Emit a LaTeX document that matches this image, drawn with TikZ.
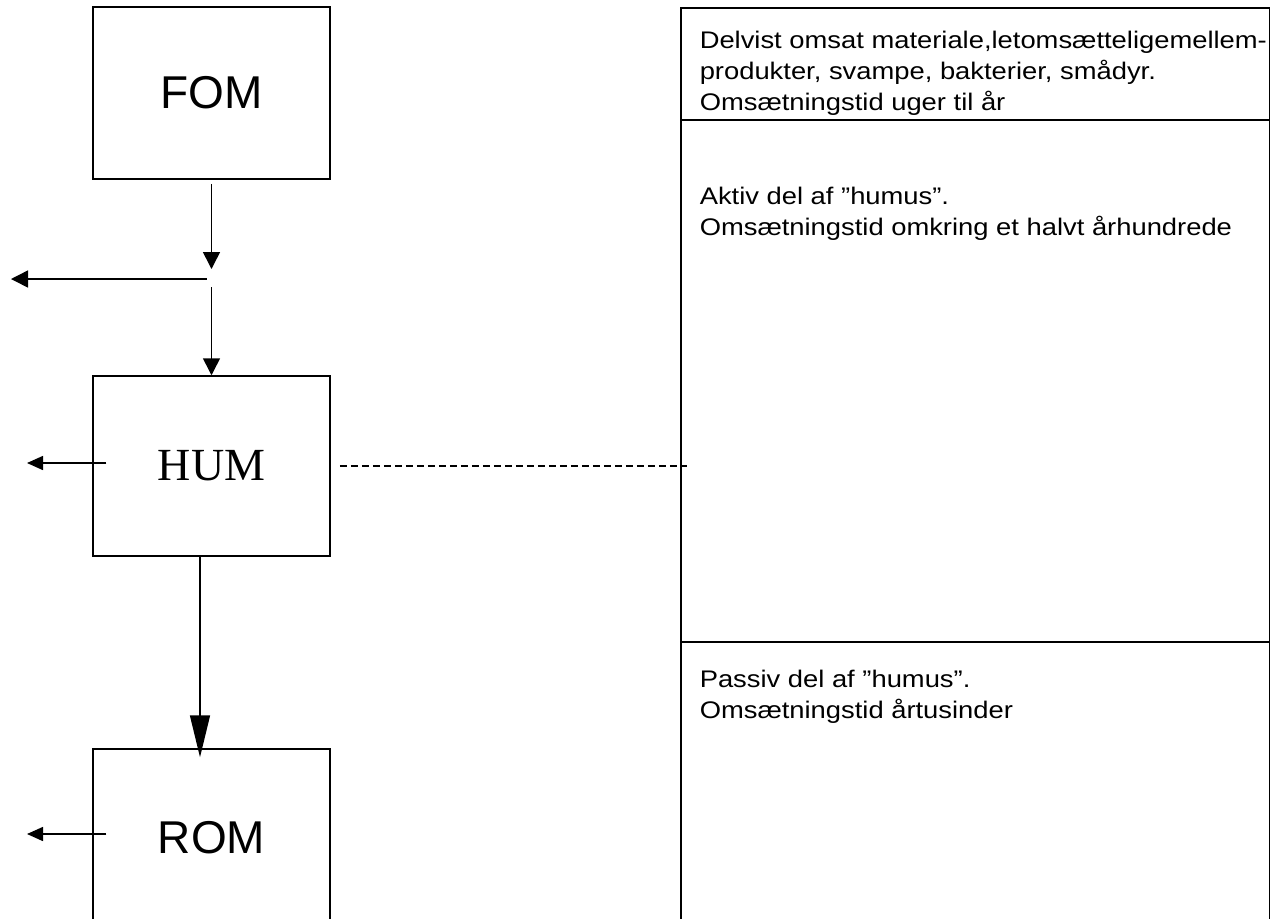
\documentclass[tikz,border=0pt]{standalone}
\usepackage{fontspec}
\setmainfont{Liberation Sans}
\newfontfamily\timesfont{Liberation Serif}
\newfontfamily\notefont[FakeStretch=1.14]{Liberation Sans}
\usetikzlibrary{arrows.meta,positioning}

\begin{document}
\begin{tikzpicture}[x=0.5pt,y=-0.5pt,line width=0.75pt,
	pool/.style={draw,minimum width=118.5pt,inner sep=0pt,font=\fontsize{23}{27}\selectfont},
	row/.style={draw,minimum width=294.5pt,inner sep=0pt,anchor=north west},
	note/.style={anchor=north west,inner sep=0pt,align=left,font=\notefont\fontsize{12}{15.5}\selectfont},
	flow/.style={-{Triangle[length=8.5pt,width=8.5pt]}},
	leak/.style={-{Triangle[length=8pt,width=7pt]}},
	bigflow/.style={-{Triangle[length=21pt,width=10pt]}}]
		\useasboundingbox (0,0) rectangle (1270,918);
		\clip (0,0) rectangle (1270,918);

		% the three pools
		\node[pool,minimum height=86pt] (FOM) at (211.5,93) {FOM};
		\node[pool,minimum height=90pt,font=\timesfont\fontsize{23}{27}\selectfont] (HUM) at (211.5,466) {HUM};
		\node[pool,minimum height=89pt] (ROM) at (211.5,838) {ROM};

		% right hand table
		\node[row,minimum height=56pt] (topRow) at (680,7) {};
		\node[row,minimum height=261pt] (midRow) at (680,119) {};
		\node[row,minimum height=150pt] (lowRow) at (680,641) {};

		\node[note] (fomText) at ([xshift=9.5pt,yshift=-11.5pt]topRow.north west)
			{Delvist omsat materiale,letomsætteligemellem-\\produkter, svampe, bakterier, smådyr.\\Omsætningstid uger til år};
		\node[note] (humText) at ([xshift=9.5pt,yshift=-33.5pt]midRow.north west)
			{Aktiv del af ”humus”.\\Omsætningstid omkring et halvt århundrede};
		\node[note] (romText) at ([xshift=9.5pt,yshift=-14pt]lowRow.north west)
			{Passiv del af ”humus”.\\Omsætningstid årtusinder};

		% flows
		\coordinate (split) at (211.5,279);
		\coordinate (sink1) at (11,279);
		\coordinate (sink2) at (27,463);
		\coordinate (sink3) at (27,834);

		\draw[flow] ([yshift=-2pt]FOM.south) -- ([yshift=5pt]split);
		\draw[flow] ([xshift=-2.5pt]split) -- (sink1);
		\draw[flow] ([yshift=-4pt]split) -- (HUM.north);
		\draw[leak] ([xshift=7pt]HUM.west |- sink2) -- (sink2);
		\draw[bigflow] ([xshift=-5.75pt]HUM.south) -- ([xshift=-5.75pt,yshift=-4.5pt]ROM.north);
		\draw[leak] ([xshift=7pt]ROM.west |- sink3) -- (sink3);
		\draw[dashed,line width=0.6pt,dash pattern=on 3.5pt off 2pt] ([xshift=4.5pt]HUM.east) -- ([xshift=3.5pt]midRow.west |- HUM.east);

	\end{tikzpicture}
\end{document}
